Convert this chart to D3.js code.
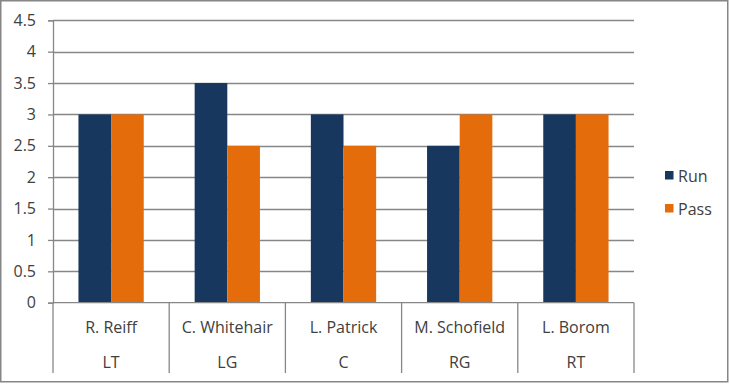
<!DOCTYPE html>
<html>
<head>
<meta charset="utf-8">
<script src="https://cdn.jsdelivr.net/npm/d3@7"></script>
<style>
  html, body { margin: 0; padding: 0; background: #fff; }
  svg { display: block; }
  text { font-family: "Open Sans", "Noto Sans", sans-serif; fill: #404040; }
</style>
</head>
<body>
<svg id="chart" width="730" height="384"></svg>
<script>
const players = ["R. Reiff", "C. Whitehair", "L. Patrick", "M. Schofield", "L. Borom"];
const positions = ["LT", "LG", "C", "RG", "RT"];
const seriesNames = ["Run", "Pass"];
const runValues = [3, 3.5, 3, 2.5, 3];
const passValues = [3, 2.5, 2.5, 3, 3];
const yTicks = [0, 0.5, 1, 1.5, 2, 2.5, 3, 3.5, 4, 4.5];
const colors = ["#17375E", "#E46C0A"];

const svg = d3.select("#chart");
const plotLeft = 53, plotRight = 634, plotTop = 20.3, plotBottom = 302.7;
const gridColor = "#878787";
const fs = "16px";

svg.append("rect").attr("x", 0.75).attr("y", 0.75).attr("width", 727).attr("height", 381)
  .attr("fill", "#fff").attr("stroke", "#868686").attr("stroke-width", 1.5);

const y = d3.scaleLinear().domain([0, 4.5]).range([plotBottom, plotTop]);
const x0 = d3.scaleBand().domain(d3.range(players.length)).range([plotLeft, plotRight]).paddingInner(0).paddingOuter(0);
const x1 = d3.scaleBand().domain(seriesNames).range([0, x0.bandwidth()]).paddingInner(0).paddingOuter(0.78);

// gridlines
svg.append("g").selectAll("line").data(yTicks.filter(d => d > 0)).join("line")
  .attr("x1", plotLeft).attr("x2", plotRight)
  .attr("y1", d => Math.round(y(d)) + 0.5).attr("y2", d => Math.round(y(d)) + 0.5)
  .attr("stroke", gridColor).attr("stroke-width", 1.3);

// y axis
const yAxis = d3.axisLeft(y).tickValues(yTicks).tickSize(5).tickPadding(12).tickFormat(d3.format("~g"));
const ga = svg.append("g").attr("transform", `translate(${plotLeft},0)`).call(yAxis);
ga.select(".domain").attr("stroke", gridColor).attr("stroke-width", 1.3);
ga.selectAll(".tick line").attr("stroke", gridColor).attr("stroke-width", 1.3);
ga.selectAll(".tick text").style("font-size", fs).attr("fill", "#404040")
  .style("font-family", "'Open Sans', sans-serif");

// bars
const groups = svg.append("g").selectAll("g").data(players).join("g")
  .attr("transform", (d, i) => `translate(${x0(i)},0)`);
groups.selectAll("rect").data((d, i) => [
  {s: "Run", v: runValues[i], c: colors[0]},
  {s: "Pass", v: passValues[i], c: colors[1]}
]).join("rect")
  .attr("x", d => x1(d.s)).attr("width", x1.bandwidth())
  .attr("y", d => y(d.v)).attr("height", d => y(0) - y(d.v))
  .attr("fill", d => d.c);

// x axis line
svg.append("line").attr("x1", plotLeft).attr("x2", plotRight).attr("y1", plotBottom).attr("y2", plotBottom)
  .attr("stroke", gridColor).attr("stroke-width", 1.3);

// category dividers
const bounds = d3.range(players.length + 1).map(i => i < players.length ? x0(i) : plotRight);
svg.append("g").selectAll("line").data(bounds).join("line")
  .attr("x1", d => d).attr("x2", d => d).attr("y1", plotBottom).attr("y2", 373)
  .attr("stroke", gridColor).attr("stroke-width", 1.3);

// category labels
svg.append("g").selectAll("text").data(players).join("text")
  .attr("x", (d, i) => x0(i) + x0.bandwidth() / 2).attr("y", 327)
  .attr("text-anchor", "middle").attr("dominant-baseline", "central")
  .style("font-size", fs).text(d => d);
svg.append("g").selectAll("text").data(positions).join("text")
  .attr("x", (d, i) => x0(i) + x0.bandwidth() / 2).attr("y", 362)
  .attr("text-anchor", "middle").attr("dominant-baseline", "central")
  .style("font-size", fs).text(d => d);

// legend
const legend = svg.append("g").selectAll("g").data(seriesNames).join("g")
  .attr("transform", (d, i) => `translate(665,${175 + i * 33})`);
legend.append("rect").attr("x", 0).attr("y", -4).attr("width", 8.5).attr("height", 8.5)
  .attr("fill", (d, i) => colors[i]);
legend.append("text").attr("x", 13).attr("y", 0.5).attr("dominant-baseline", "central")
  .style("font-size", fs).text(d => d);
</script>
</body>
</html>
